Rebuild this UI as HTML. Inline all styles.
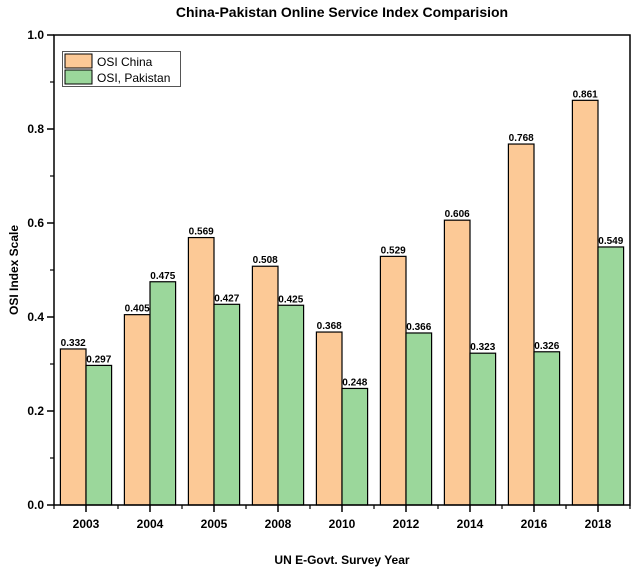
<!DOCTYPE html>
<html><head><meta charset="utf-8"><style>
body{margin:0;background:#fff;}
svg text{font-family:"Liberation Sans",Arial,sans-serif;}
</style></head><body>
<svg width="632" height="571" xmlns="http://www.w3.org/2000/svg">
<text x="342" y="17" text-anchor="middle" font-size="14" font-weight="bold">China-Pakistan Online Service Index Comparision</text>
<g id="plot"></g>
<text transform="translate(18,270) rotate(-90)" text-anchor="middle" font-size="12" font-weight="bold">OSI Index Scale</text>
<text x="342" y="564" text-anchor="middle" font-size="12" font-weight="bold">UN E-Govt. Survey Year</text>
<g>
<rect x="62.5" y="51.5" width="118" height="35" fill="#fff" stroke="#555" stroke-width="1"/>
<rect x="65" y="54" width="27" height="14" fill="#fcc996" stroke="#000"/>
<text x="97" y="66" font-size="12">OSI China</text>
<rect x="65" y="70" width="27" height="14" fill="#9bd79b" stroke="#000"/>
<text x="97" y="82" font-size="12">OSI, Pakistan</text>
</g>
</svg>
<script>
const categories=["2003","2004","2005","2008","2010","2012","2014","2016","2018"];
const china=[0.332,0.405,0.569,0.508,0.368,0.529,0.606,0.768,0.861];
const pakistan=[0.297,0.475,0.427,0.425,0.248,0.366,0.323,0.326,0.549];
const yTicks=[0,0.2,0.4,0.6,0.8,1.0];
const ns="http://www.w3.org/2000/svg";
const g=document.getElementById('plot');
const L=54,R=630,T=35,B=505;
const step=(R-L)/categories.length;
const y=v=>B-v*(B-T);
const xc=i=>L+step*(i+0.5);
function mk(t,a){const e=document.createElementNS(ns,t);for(const k in a)e.setAttribute(k,a[k]);g.appendChild(e);return e;}
const bw=step*0.4;
categories.forEach((c,i)=>{
  [[china,'#fcc996',-1,'china'],[pakistan,'#9bd79b',0,'pakistan']].forEach(([arr,col,off,nm])=>{
    const x0=xc(i)+off*bw;
    const r=mk('rect',{x:x0,y:y(arr[i]),width:bw,height:B-y(arr[i]),fill:col,stroke:'#000','stroke-width':1.2});
    
    
    const t=mk('text',{x:x0+bw/2,y:y(arr[i])-3,'text-anchor':'middle','font-size':10,'font-weight':'bold'});
    t.textContent=arr[i].toFixed(3);
    
    
  });
  const tk=mk('line',{x1:xc(i),x2:xc(i),y1:B,y2:B+7,stroke:'#000','stroke-width':1.5});
  
  
  const lb=mk('text',{x:xc(i),y:B+23,'text-anchor':'middle','font-size':12,'font-weight':'bold'});
  lb.textContent=c;
  
  
});
for(let i=0;i<=categories.length;i++){
  const m=mk('line',{x1:L+step*i,x2:L+step*i,y1:B,y2:B+4,stroke:'#000','stroke-width':1.2});
  
  
}
yTicks.forEach(v=>{
  const tk=mk('line',{x1:L-7,x2:L,y1:y(v),y2:y(v),stroke:'#000','stroke-width':1.5});
  
  
  const lb=mk('text',{x:L-10,y:y(v)+4,'text-anchor':'end','font-size':12,'font-weight':'bold'});
  lb.textContent=v.toFixed(1);
  
  
  if(v<1){const m=mk('line',{x1:L-4,x2:L,y1:y(v+0.1),y2:y(v+0.1),stroke:'#000','stroke-width':1.2});
  
  }
});
const fr=mk('rect',{x:L,y:T,width:R-L,height:B-T,fill:'none',stroke:'#000','stroke-width':1.5});


</script>
</body></html>
